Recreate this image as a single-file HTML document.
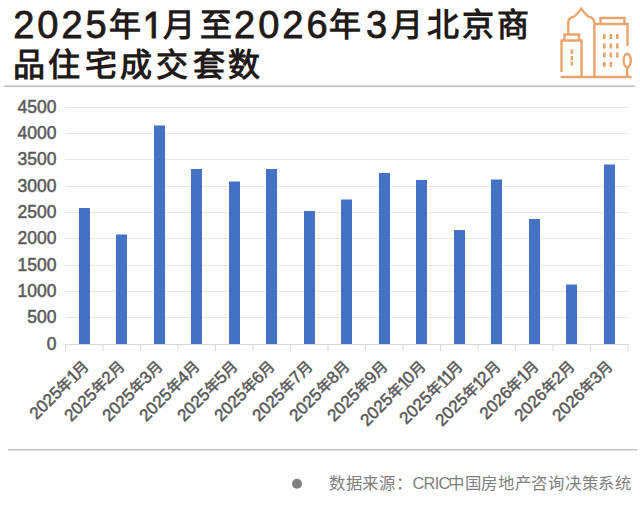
<!DOCTYPE html>
<html lang="zh-CN">
<head>
<meta charset="utf-8">
<style>
html,body{margin:0;padding:0;background:#fff;}
body{width:640px;height:516px;position:relative;overflow:hidden;font-family:"Liberation Sans",sans-serif;}
.title{position:absolute;left:14px;font-weight:bold;font-size:32px;letter-spacing:3px;line-height:40px;color:#211a18;white-space:nowrap;}
.t1>span{position:absolute;top:1px;}
.title .d{top:1px;font-size:38px;font-weight:normal;-webkit-text-stroke:0.8px #211a18;letter-spacing:3px;}
.yl{position:absolute;right:583.5px;font-size:17.5px;color:#595959;-webkit-text-stroke:0.5px #595959;line-height:20px;text-align:right;white-space:nowrap;}
.xl{position:absolute;font-size:17px;color:#595959;-webkit-text-stroke:0.5px #595959;line-height:18px;white-space:nowrap;transform-origin:100% 50%;transform:rotate(-45deg);}
.o{display:inline-block;clip-path:inset(0 0 4.62px 0);transform:scaleY(1.17);transform-origin:50% 2.95px;margin:0 -2.2px 0 -0.5px;}
.o1{display:inline-block;clip-path:inset(0 0 10.7px 0);transform:scaleY(1.19);transform-origin:50% 6.7px;}
.c{font-size:15px;}
.src{position:absolute;left:329px;top:472.5px;font-size:16.4px;letter-spacing:0.68px;color:#808080;white-space:nowrap;line-height:20px;}
svg{position:absolute;left:0;top:0;}
</style>
</head>
<body>
<div class="title t1" style="top:4px;left:0"><span class="d" style="left:13.2px">2025</span><span style="left:108.7px">年</span><span class="d" style="left:142.6px"><span class="o1">1</span></span><span style="left:162.5px">月</span><span style="left:199.9px">至</span><span class="d" style="left:234.1px">2026</span><span style="left:329.4px">年</span><span class="d" style="left:365.9px">3</span><span style="left:390.6px">月</span><span style="left:427.2px">北</span><span style="left:462.3px">京</span><span style="left:496.5px">商</span></div>
<div class="title t1" style="top:44px;left:0"><span style="left:13.0px">品</span><span style="left:48.4px">住</span><span style="left:85.0px">宅</span><span style="left:119.7px">成</span><span style="left:155.6px">交</span><span style="left:192.6px">套</span><span style="left:228.1px">数</span></div>

<svg width="640" height="516" viewBox="0 0 640 516">
  <!-- separators -->
  <rect x="4" y="85.5" width="631" height="1.5" fill="#bdbdbd"/>
  <rect x="8" y="449" width="629" height="1.5" fill="#c4c4c4"/>
  <!-- gridlines -->
  <g fill="#e8e8e8">
    <rect x="65" y="107" width="564" height="1"/>
    <rect x="65" y="133" width="564" height="1"/>
    <rect x="65" y="159" width="564" height="1"/>
    <rect x="65" y="186" width="564" height="1"/>
    <rect x="65" y="212" width="564" height="1"/>
    <rect x="65" y="238" width="564" height="1"/>
    <rect x="65" y="265" width="564" height="1"/>
    <rect x="65" y="291" width="564" height="1"/>
    <rect x="65" y="317" width="564" height="1"/>
  </g>
  <!-- axis -->
  <g fill="#d9d9d9">
    <rect x="65" y="344" width="564" height="1"/>
  </g>
  <g stroke="#d9d9d9" stroke-width="1">
    <path d="M65.5 344V351M103 344V351M140.5 344V351M178 344V351M215.5 344V351M253 344V351M290.5 344V351M328 344V351M365.5 344V351M403 344V351M440.5 344V351M478 344V351M515.5 344V351M553 344V351M590.5 344V351M628 344V351"/>
  </g>
  <!-- bars -->
  <g fill="#4472c4">
    <rect x="79" y="208" width="11" height="136"/>
    <rect x="116" y="234.5" width="11" height="109.5"/>
    <rect x="154" y="125.5" width="11" height="218.5"/>
    <rect x="191" y="169" width="11" height="175"/>
    <rect x="229" y="181.5" width="11" height="162.5"/>
    <rect x="266" y="169" width="11" height="175"/>
    <rect x="304" y="211" width="11" height="133"/>
    <rect x="341" y="199.5" width="11" height="144.5"/>
    <rect x="379" y="173" width="11" height="171"/>
    <rect x="416" y="180" width="11" height="164"/>
    <rect x="454" y="230" width="11" height="114"/>
    <rect x="491" y="179.5" width="11" height="164.5"/>
    <rect x="529" y="219" width="11" height="125"/>
    <rect x="566" y="284.5" width="11" height="59.5"/>
    <rect x="604" y="164.5" width="11" height="179.5"/>
  </g>
  <!-- source dot -->
  <circle cx="297" cy="483.7" r="5" fill="#808080"/>
  <!-- icon -->
  <g fill="none" stroke="#e9a56c" stroke-width="2.4" stroke-linejoin="miter">
    <path d="M560.5 77H631.5"/>
    <path d="M561.5 72V40.5H581.5V77"/>
    <path d="M564.5 40V34.5H579V40"/>
    <path d="M568.3 34.5V22Q568.6 17.6 574 16.6Q578 13.5 581.2 8.6Q584.4 13.5 588.4 16.6Q593.9 17.6 594.4 22.5V77"/>
    <path d="M594.5 24H627.5V46"/>
    <path d="M600.5 24V18H624.5V24"/>
    <ellipse cx="627.2" cy="60.5" rx="3.6" ry="6.8"/>
    <path d="M627.2 67V77"/>
  </g>
  <g fill="#e9a56c">
    <rect x="570.5" y="49.5" width="2.6" height="4.5"/>
    <rect x="570.5" y="56" width="2.6" height="4.5"/>
    <rect x="570.5" y="62" width="2.6" height="3.5"/>
    <rect x="603" y="34" width="2.6" height="5"/>
    <rect x="609.5" y="34" width="2.6" height="5"/>
    <rect x="616" y="34" width="2.6" height="5"/>
    <rect x="603" y="43.5" width="2.6" height="5"/>
    <rect x="609.5" y="43.5" width="2.6" height="5"/>
    <rect x="616" y="43.5" width="2.6" height="5"/>
    <rect x="603" y="52.5" width="2.6" height="5"/>
    <rect x="609.5" y="52.5" width="2.6" height="5"/>
    <rect x="616" y="52.5" width="2.6" height="5"/>
    <rect x="603" y="62" width="2.6" height="5"/>
    <rect x="609.5" y="62" width="2.6" height="5"/>
  </g>
</svg>

<div class="yl" style="top:97px">4500</div>
<div class="yl" style="top:123px">4000</div>
<div class="yl" style="top:149px">3500</div>
<div class="yl" style="top:176px">3000</div>
<div class="yl" style="top:202px">2500</div>
<div class="yl" style="top:228px">2000</div>
<div class="yl" style="top:255px">1500</div>
<div class="yl" style="top:281px">1000</div>
<div class="yl" style="top:307px">500</div>
<div class="yl" style="top:334px">0</div>

<div class="xl" style="right:554.75px;top:355px">2025<span class="c">年</span><span class="o">1</span><span class="c">月</span></div>
<div class="xl" style="right:517.25px;top:355px">2025<span class="c">年</span>2<span class="c">月</span></div>
<div class="xl" style="right:479.75px;top:355px">2025<span class="c">年</span>3<span class="c">月</span></div>
<div class="xl" style="right:442.25px;top:355px">2025<span class="c">年</span>4<span class="c">月</span></div>
<div class="xl" style="right:404.75px;top:355px">2025<span class="c">年</span>5<span class="c">月</span></div>
<div class="xl" style="right:367.25px;top:355px">2025<span class="c">年</span>6<span class="c">月</span></div>
<div class="xl" style="right:329.75px;top:355px">2025<span class="c">年</span>7<span class="c">月</span></div>
<div class="xl" style="right:292.25px;top:355px">2025<span class="c">年</span>8<span class="c">月</span></div>
<div class="xl" style="right:254.75px;top:355px">2025<span class="c">年</span>9<span class="c">月</span></div>
<div class="xl" style="right:217.25px;top:355px">2025<span class="c">年</span><span class="o">1</span>0<span class="c">月</span></div>
<div class="xl" style="right:179.75px;top:355px">2025<span class="c">年</span><span class="o">1</span><span class="o">1</span><span class="c">月</span></div>
<div class="xl" style="right:142.25px;top:355px">2025<span class="c">年</span><span class="o">1</span>2<span class="c">月</span></div>
<div class="xl" style="right:104.75px;top:355px">2026<span class="c">年</span><span class="o">1</span><span class="c">月</span></div>
<div class="xl" style="right:67.25px;top:355px">2026<span class="c">年</span>2<span class="c">月</span></div>
<div class="xl" style="right:29.75px;top:355px">2026<span class="c">年</span>3<span class="c">月</span></div>

<div class="src">数据来源：<span style="letter-spacing:-0.7px;margin-right:-1.6px">CRIC</span>中国房地产咨询决策系统</div>
</body>
</html>
